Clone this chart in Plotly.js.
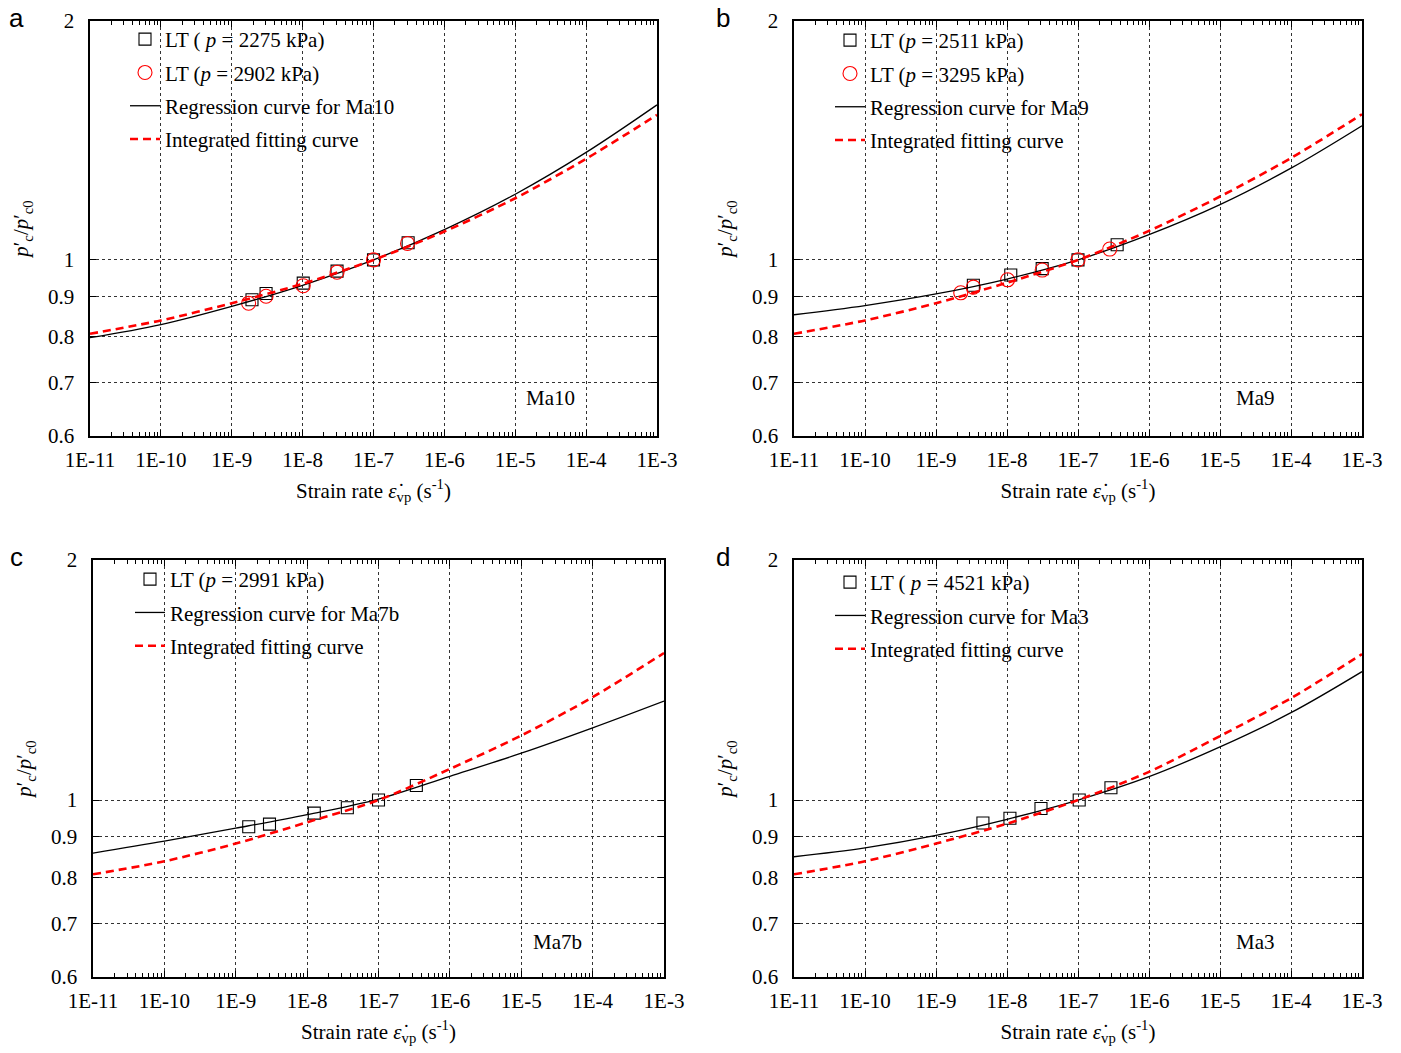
<!DOCTYPE html>
<html>
<head>
<meta charset="utf-8">
<script src="https://cdn.plot.ly/plotly-3.0.1.min.js"></script>
<style>html,body{margin:0;padding:0;background:#fff;}#chart{width:1401px;height:1053px;}</style>
</head>
<body>
<div id="chart"></div>
<script>
// ---- data ----
const decades = [1e-11, 1e-10, 1e-9, 1e-8, 1e-7, 1e-6, 1e-5, 1e-4, 1e-3];
const xTickLabels = ['1E-11','1E-10','1E-9','1E-8','1E-7','1E-6','1E-5','1E-4','1E-3'];
const yTickVals = [0.6, 0.7, 0.8, 0.9, 1, 2];
const yTickLabels = ['0.6','0.7','0.8','0.9','1','2'];

// panel a (Ma10)
const aSqX = [1.93e-9, 3.05e-9, 1.02e-8, 3.06e-8, 1.0e-7, 3.08e-7];
const aSqY = [0.891, 0.907, 0.935, 0.968, 1.0, 1.051];
const aCiX = [1.73e-9, 3.05e-9, 1.02e-8, 3.06e-8, 1.0e-7, 3.02e-7];
const aCiY = [0.882, 0.900, 0.928, 0.965, 1.0, 1.049];
const aRegY = [0.798, 0.829, 0.874, 0.929, 1.0, 1.092, 1.210, 1.366, 1.568];
const aFitY = [0.807, 0.839, 0.882, 0.933, 1.0, 1.086, 1.196, 1.341, 1.523];

// panel b (Ma9)
const bSqX = [3.36e-9, 1.13e-8, 3.13e-8, 1.0e-7, 3.56e-7];
const bSqY = [0.929, 0.957, 0.975, 1.0, 1.045];
const bCiX = [2.23e-9, 3.36e-9, 1.02e-8, 3.13e-8, 1.0e-7, 2.8e-7];
const bCiY = [0.909, 0.924, 0.944, 0.971, 1.0, 1.032];
const bRegY = [0.853, 0.876, 0.906, 0.946, 1.0, 1.076, 1.174, 1.305, 1.476];
const bFitY = [0.807, 0.839, 0.882, 0.936, 1.0, 1.088, 1.202, 1.344, 1.526];

// panel c (Ma7b)
const cSqX = [1.52e-9, 2.97e-9, 1.26e-8, 3.66e-8, 1.0e-7, 3.39e-7];
const cSqY = [0.926, 0.933, 0.963, 0.978, 1.0, 1.043];
const cRegY = [0.858, 0.888, 0.922, 0.959, 1.003, 1.071, 1.145, 1.232, 1.331];
const cFitY = [0.807, 0.838, 0.882, 0.938, 1.0, 1.094, 1.205, 1.346, 1.529];

// panel d (Ma3)
const dSqX = [4.58e-9, 1.10e-8, 3.01e-8, 1.04e-7, 2.91e-7];
const dSqY = [0.936, 0.949, 0.976, 1.0, 1.036];
const dRegY = [0.849, 0.871, 0.903, 0.946, 1.0, 1.070, 1.166, 1.287, 1.449];
const dFitY = [0.807, 0.838, 0.882, 0.934, 1.0, 1.085, 1.203, 1.342, 1.524];

// ---- styling ----
const FONT = 'Liberation Serif, Times New Roman, serif';
const FS = 21;
const minorVals = [];
for (let i = 0; i < decades.length - 1; i++) for (let m = 2; m <= 9; m++) minorVals.push(decades[i] * m);

function sq(x, y, name, xa, ya, lg) {
  return {x, y, name, xaxis: xa, yaxis: ya, legend: lg, legendgroup: lg + name, mode: 'markers', type: 'scatter',
    marker: {symbol: 'square-open', size: 12, color: '#000', line: {width: 1.1, color: '#000'}}};
}
function ci(x, y, name, xa, ya, lg) {
  return {x, y, name, xaxis: xa, yaxis: ya, legend: lg, legendgroup: lg + name, mode: 'markers', type: 'scatter',
    marker: {symbol: 'circle-open', size: 14, color: '#ff0000', line: {width: 1.1, color: '#ff0000'}}};
}
function reg(y, name, xa, ya, lg) {
  return {x: decades, y, name, xaxis: xa, yaxis: ya, legend: lg, legendgroup: lg + name, mode: 'lines', type: 'scatter',
    line: {color: '#000', width: 1.3, shape: 'spline', smoothing: 1}};
}
function fit(y, xa, ya, lg) {
  return {x: decades, y, name: 'Integrated fitting curve', xaxis: xa, yaxis: ya, legend: lg, legendgroup: lg + 'fit', mode: 'lines', type: 'scatter',
    line: {color: '#ff0000', width: 2.6, dash: '8px,5px', shape: 'spline', smoothing: 0.8}};
}

const traces = [
  sq(aSqX, aSqY, 'LT ( <i>p</i> = 2275 kPa)', 'x', 'y', 'legend'),
  ci(aCiX, aCiY, 'LT (<i>p</i> = 2902 kPa)', 'x', 'y', 'legend'),
  reg(aRegY, 'Regression curve for Ma10', 'x', 'y', 'legend'),
  fit(aFitY, 'x', 'y', 'legend'),

  sq(bSqX, bSqY, 'LT (<i>p</i> = 2511 kPa)', 'x2', 'y2', 'legend2'),
  ci(bCiX, bCiY, 'LT (<i>p</i> = 3295 kPa)', 'x2', 'y2', 'legend2'),
  reg(bRegY, 'Regression curve for Ma9', 'x2', 'y2', 'legend2'),
  fit(bFitY, 'x2', 'y2', 'legend2'),

  sq(cSqX, cSqY, 'LT (<i>p</i> = 2991 kPa)', 'x3', 'y3', 'legend3'),
  reg(cRegY, 'Regression curve for Ma7b', 'x3', 'y3', 'legend3'),
  fit(cFitY, 'x3', 'y3', 'legend3'),

  sq(dSqX, dSqY, 'LT ( <i>p</i> = 4521 kPa)', 'x4', 'y4', 'legend4'),
  reg(dRegY, 'Regression curve for Ma3', 'x4', 'y4', 'legend4'),
  fit(dFitY, 'x4', 'y4', 'legend4')
];

const W = 1401, H = 1053;
function xAxis(l, r, anchor) {
  return {
    type: 'log', domain: [l / W, r / W], anchor: anchor, range: [-11, -3],
    tickmode: 'array', tickvals: decades, ticktext: xTickLabels,
    ticks: 'inside', ticklen: 6, tickwidth: 1, tickcolor: '#000',
    showline: true, linecolor: '#000', linewidth: 1.6, mirror: 'ticks',
    showgrid: true, gridcolor: '#333', griddash: 'dot', gridwidth: 1,
    zeroline: false,
    minor: {tickmode: 'array', tickvals: minorVals, ticks: 'inside', ticklen: 4, tickwidth: 1, tickcolor: '#000', showgrid: false},
    tickfont: {family: FONT, size: FS, color: '#000'},
    ticklabelstandoff: 4,
    title: {text: 'Strain rate <i>ε̇</i><sub>vp</sub> (s<sup>-1</sup>)', font: {family: FONT, size: FS, color: '#000'}, standoff: 12},
    automargin: false, fixedrange: true
  };
}
function yAxis(t, b, anchor) {
  return {
    type: 'log', domain: [1 - b / H, 1 - t / H], anchor: anchor, range: [Math.log10(0.6), Math.log10(2)],
    tickmode: 'array', tickvals: yTickVals, ticktext: yTickLabels,
    ticks: 'inside', ticklen: 6, tickwidth: 1, tickcolor: '#000',
    showline: true, linecolor: '#000', linewidth: 1.6, mirror: 'ticks',
    showgrid: true, gridcolor: '#333', griddash: 'dot', gridwidth: 1,
    zeroline: false,
    tickfont: {family: FONT, size: FS, color: '#000'},
    ticklabelstandoff: 10,
    title: {text: '<i>p</i>′<sub>c</sub>/<i>p</i>′<sub>c0</sub>', font: {family: FONT, size: FS, color: '#000'}, standoff: 13},
    automargin: false, fixedrange: true
  };
}
function legendAt(xpx, ypx) {
  return {x: xpx / W, y: 1 - ypx / H, xanchor: 'left', yanchor: 'top', bgcolor: 'rgba(0,0,0,0)', borderwidth: 0,
    font: {family: FONT, size: FS, color: '#000'}, tracegroupgap: 3, itemwidth: 30, traceorder: 'grouped'};
}
function panelLabel(text, xpx, ypx) {
  return {text, x: xpx / W, y: 1 - ypx / H, xref: 'paper', yref: 'paper', showarrow: false, xanchor: 'center', yanchor: 'middle',
    font: {family: 'Liberation Sans, Arial, sans-serif', size: 26, color: '#000'}};
}
function maLabel(text, xa, ya, yfrac) {
  return {text, x: 0.813, y: yfrac, xref: xa + ' domain', yref: ya + ' domain', showarrow: false, xanchor: 'center', yanchor: 'middle',
    font: {family: FONT, size: FS, color: '#000'}};
}

const layout = {
  width: W, height: H, margin: {l: 0, r: 0, t: 0, b: 0},
  paper_bgcolor: '#fff', plot_bgcolor: '#fff', showlegend: true,
  xaxis: xAxis(90, 657, 'y'), yaxis: yAxis(21, 436, 'x'),
  xaxis2: xAxis(794, 1362, 'y2'), yaxis2: yAxis(21, 436, 'x2'),
  xaxis3: xAxis(93, 664, 'y3'), yaxis3: yAxis(560, 977, 'x3'),
  xaxis4: xAxis(794, 1362, 'y4'), yaxis4: yAxis(560, 977, 'x4'),
  legend: legendAt(125, 19),
  legend2: legendAt(830, 20),
  legend3: legendAt(130, 559),
  legend4: legendAt(830, 562),
  annotations: [
    panelLabel('a', 16, 18), panelLabel('b', 723, 18), panelLabel('c', 16, 557), panelLabel('d', 723, 557),
    maLabel('Ma10', 'x', 'y', 0.092), maLabel('Ma9', 'x2', 'y2', 0.092),
    maLabel('Ma7b', 'x3', 'y3', 0.084), maLabel('Ma3', 'x4', 'y4', 0.084)
  ]
};

Plotly.newPlot('chart', traces, layout, {staticPlot: true, displayModeBar: false});
</script>
</body>
</html>
